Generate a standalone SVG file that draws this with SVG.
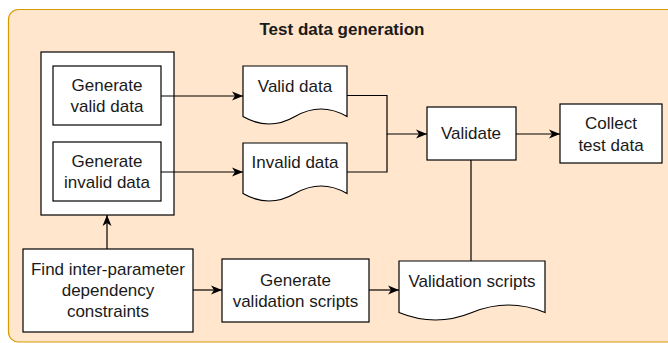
<svg xmlns="http://www.w3.org/2000/svg" width="668" height="343" viewBox="0 0 668 343">
<style>
  .box { fill: #ffffff; stroke: #000000; stroke-width: 1.2; }
  .t { font-family: "Liberation Sans", Arial, sans-serif; font-size: 17px; fill: #1a1a1a; text-anchor: middle; }
  .title { font-weight: bold; }
  .edge { fill: none; stroke: #000000; stroke-width: 1.2; }
  .arr { marker-end: url(#ah); }
</style>
<defs>
  <marker id="ah" markerUnits="userSpaceOnUse" markerWidth="12" markerHeight="10" viewBox="0 0 12 10" refX="11" refY="5" orient="auto">
    <path d="M0,0.5 L11,5 L0,9.5 L3,5 Z" fill="#000000"/>
  </marker>
</defs>

<g id="container">
  <rect x="8.5" y="9.5" width="680" height="332.5" rx="10" ry="10" fill="#ffe6cc" stroke="#d79b00" stroke-width="1.2"/>
  <text class="t title" x="342" y="35">Test data generation</text>
</g>

<g id="generator-group">
  <rect class="box" x="41" y="52" width="133" height="163"/>
</g>

<g id="gen-valid">
  <rect class="box" x="53" y="66" width="108" height="59"/>
  <text class="t" x="107" y="91">Generate</text>
  <text class="t" x="107" y="111.5">valid data</text>
</g>

<g id="gen-invalid">
  <rect class="box" x="53" y="142" width="108" height="59"/>
  <text class="t" x="107" y="167">Generate</text>
  <text class="t" x="107" y="188">invalid data</text>
</g>

<g id="valid-data">
  <path class="box" d="M243,66 H347 V116.5 Q321,101.5 295,116.5 T243,116.5 Z"/>
  <text class="t" x="295" y="92">Valid data</text>
</g>

<g id="invalid-data">
  <path class="box" d="M243,143 H347 V193.5 Q321,178.5 295,193.5 T243,193.5 Z"/>
  <text class="t" x="295" y="168">Invalid data</text>
</g>

<g id="validate">
  <rect class="box" x="427" y="107" width="89" height="53"/>
  <text class="t" x="471" y="139">Validate</text>
</g>

<g id="collect">
  <rect class="box" x="560" y="104" width="102" height="59"/>
  <text class="t" x="611" y="128.5">Collect</text>
  <text class="t" x="611" y="150.5">test data</text>
</g>

<g id="find-constraints">
  <rect class="box" x="23" y="249" width="170" height="83"/>
  <text class="t" x="108" y="275">Find inter-parameter</text>
  <text class="t" x="108" y="296">dependency</text>
  <text class="t" x="108" y="317">constraints</text>
</g>

<g id="gen-scripts">
  <rect class="box" x="222" y="259" width="147" height="63"/>
  <text class="t" x="295.5" y="285.5">Generate</text>
  <text class="t" x="295.5" y="307">validation scripts</text>
</g>

<g id="validation-scripts">
  <path class="box" d="M399,261 H545 V312.5 Q508.5,297.5 472,312.5 T399,312.5 Z"/>
  <text class="t" x="472" y="287">Validation scripts</text>
</g>

<g id="connectors">
  <path class="edge arr" d="M161,96 H243"/>
  <path class="edge arr" d="M161,172 H243"/>
  <path class="edge arr" d="M347,95.5 H387 V134 H427"/>
  <path class="edge" d="M347,172 H387 V134"/>
  <path class="edge arr" d="M516,134 H560"/>
  <path class="edge" d="M471,160 V261"/>
  <path class="edge arr" d="M107,249 V215"/>
  <path class="edge arr" d="M193,290 H222"/>
  <path class="edge arr" d="M369,290 H399"/>
</g>
</svg>
